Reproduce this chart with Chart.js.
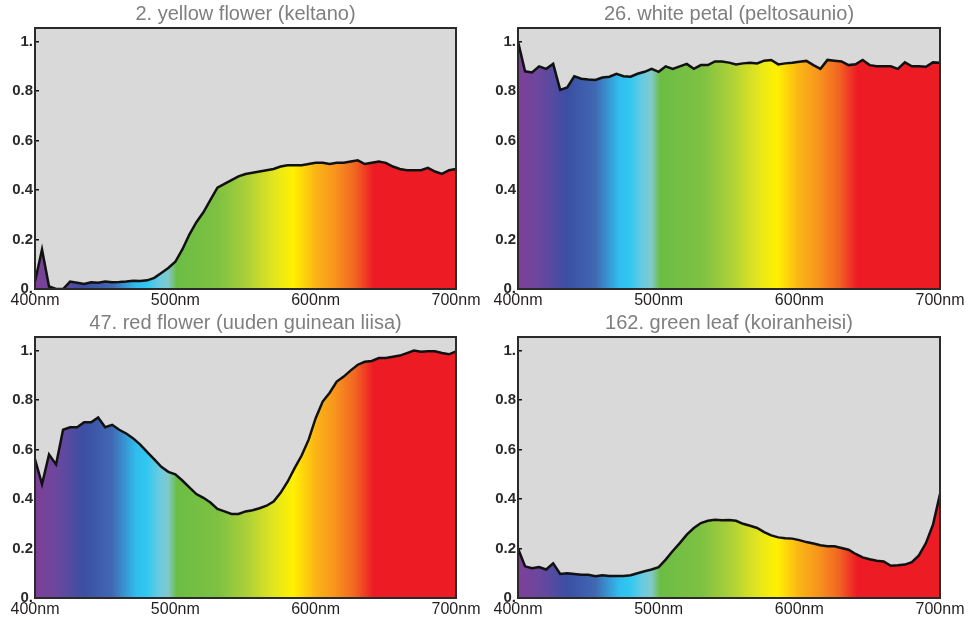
<!DOCTYPE html>
<html>
<head>
<meta charset="utf-8">
<script src="https://cdn.jsdelivr.net/npm/chart.js@4/dist/chart.umd.min.js"></script>
<style>
  html, body { margin: 0; padding: 0; background: #fff; overflow: hidden; }
  body { width: 969px; height: 618px; position: relative; }
  canvas { position: absolute; }
</style>
</head>
<body>
<canvas id="c1" width="491" height="310" style="left:0px;top:0px"></canvas>
<canvas id="c2" width="492" height="310" style="left:483px;top:0px"></canvas>
<canvas id="c3" width="491" height="310" style="left:0px;top:309px"></canvas>
<canvas id="c4" width="492" height="310" style="left:483px;top:309px"></canvas>
<script>
// wavelengths in nm, 5nm steps
var wavelengths = [];
for (var w = 400; w <= 700; w += 5) wavelengths.push(w);

var titles = [
    "2. yellow flower (keltano)",
    "26. white petal (peltosaunio)",
    "47. red flower (uuden guinean liisa)",
    "162. green leaf (koiranheisi)"
];

var yellowFlower = [
    0.03, 0.16, 0.01, 0.0, 0.0, 0.03, 0.025, 0.02, 0.027, 0.025,
    0.03, 0.027, 0.028, 0.03, 0.033, 0.032, 0.035, 0.045, 0.065, 0.085,
    0.11, 0.16, 0.22, 0.27, 0.31, 0.36, 0.41, 0.425, 0.44, 0.455,
    0.465, 0.47, 0.475, 0.48, 0.485, 0.495, 0.5, 0.5, 0.5, 0.505,
    0.51, 0.51, 0.505, 0.51, 0.51, 0.515, 0.52, 0.505, 0.51, 0.515,
    0.51, 0.495, 0.485, 0.48, 0.48, 0.48, 0.49, 0.475, 0.465, 0.48,
    0.485
];
var whitePetal = [
    1.0, 0.88, 0.875, 0.9, 0.89, 0.91, 0.805, 0.815, 0.86, 0.85,
    0.847, 0.845, 0.855, 0.858, 0.87, 0.86, 0.858, 0.87, 0.878, 0.89,
    0.878, 0.9, 0.89, 0.9, 0.91, 0.89, 0.905, 0.905, 0.92, 0.92,
    0.915, 0.908, 0.912, 0.915, 0.912, 0.923, 0.926, 0.908, 0.912, 0.915,
    0.919, 0.922, 0.905, 0.89, 0.926, 0.923, 0.92, 0.905, 0.908, 0.926,
    0.905, 0.9, 0.9, 0.9, 0.89, 0.916, 0.9, 0.9, 0.898, 0.916,
    0.915
];
var redFlower = [
    0.56, 0.46, 0.58, 0.54, 0.68, 0.69, 0.69, 0.71, 0.71, 0.73,
    0.69, 0.7, 0.68, 0.665, 0.645, 0.62, 0.59, 0.56, 0.53, 0.51,
    0.5, 0.475, 0.447, 0.42, 0.405, 0.386, 0.36, 0.35, 0.34, 0.34,
    0.35, 0.355, 0.363, 0.373, 0.39, 0.425, 0.47, 0.525, 0.576, 0.64,
    0.727, 0.794, 0.83, 0.875, 0.895, 0.92, 0.943, 0.955, 0.958, 0.97,
    0.97, 0.975, 0.98, 0.99, 1.0, 0.995, 0.997, 0.997, 0.99, 0.985,
    0.997
];
var greenLeaf = [
    0.2, 0.128, 0.12, 0.125, 0.115, 0.14, 0.097, 0.1, 0.097, 0.094,
    0.094, 0.088, 0.092, 0.089, 0.089, 0.089, 0.092, 0.1, 0.108, 0.115,
    0.125, 0.155, 0.19, 0.222, 0.256, 0.283, 0.303, 0.312, 0.316, 0.314,
    0.315, 0.312, 0.3, 0.292, 0.283, 0.266, 0.253, 0.245, 0.242, 0.24,
    0.234, 0.226, 0.22, 0.213, 0.209, 0.209, 0.202, 0.195, 0.178, 0.164,
    0.157, 0.151, 0.148, 0.13, 0.132, 0.135, 0.145, 0.172, 0.222, 0.296,
    0.42
];
var series = [yellowFlower, whitePetal, redFlower, greenLeaf];

var xTicks = [400, 500, 600, 700];

// colour stops of the spectrum fill [nm, colour]
var spectrumStops = [
    [400, "#7e3f98"], [415, "#6c479e"], [435, "#3b4fa3"], [455, "#4168b3"],
    [472, "#31bdee"], [479, "#2ec7f1"], [489, "#6ccbe0"], [495, "#80c9c8"],
    [501, "#6cbd45"], [530, "#7dc142"], [550, "#a9cf3a"], [570, "#e2e51f"],
    [584, "#fff200"], [592, "#ffd20c"], [600, "#fbb416"], [614, "#f7941d"],
    [628, "#f26522"], [641, "#ed1c24"], [700, "#ed1c24"]
];

function spectrumFill(context) {
    var chart = context.chart;
    if (!chart.chartArea) return null;
    var x = chart.scales.x;
    var g = chart.ctx.createLinearGradient(x.getPixelForValue(400), 0, x.getPixelForValue(700), 0);
    spectrumStops.forEach(function (s) {
        g.addColorStop((s[0] - 400) / 300, s[1]);
    });
    return g;
}

var frame = {
    id: "frame",
    beforeDraw: function (chart) {
        var a = chart.chartArea, ctx = chart.ctx;
        ctx.save();
        ctx.fillStyle = "#d9d9d9";
        ctx.fillRect(a.left, a.top, a.right - a.left, a.bottom - a.top);
        ctx.restore();
    },
    afterDraw: function (chart) {
        var a = chart.chartArea, ctx = chart.ctx;
        ctx.save();
        ctx.strokeStyle = "#2a2a2a";
        ctx.lineWidth = 2;
        ctx.strokeRect(a.left, a.top, a.right - a.left, a.bottom - a.top);
        ctx.restore();
    }
};

function makeChart(id, i) {
    var points = wavelengths.map(function (w, k) {
        return { x: w, y: series[i][k] };
    });
    return new Chart(document.getElementById(id), {
        type: "line",
        data: {
            datasets: [{
                data: points,
                borderColor: "#111",
                borderWidth: 2.5,
                pointRadius: 0,
                tension: 0,
                fill: "origin",
                backgroundColor: spectrumFill
            }]
        },
        options: {
            responsive: false,
            animation: false,
            layout: { padding: 0 },
            plugins: {
                legend: { display: false },
                tooltip: { enabled: false },
                title: {
                    display: true,
                    text: titles[i],
                    color: "#7f7f7f",
                    font: { family: "Liberation Sans", size: 20, weight: "normal" },
                    padding: { top: 2, bottom: 2 }
                }
            },
            scales: {
                x: {
                    type: "linear",
                    min: 400,
                    max: 700,
                    z: 1,
                    afterBuildTicks: function (scale) {
                        scale.ticks = xTicks.map(function (v) { return { value: v }; });
                    },
                    afterFit: function (scale) { scale.height = 21; },
                    border: { display: false },
                    grid: { drawOnChartArea: false, drawTicks: true, tickLength: -5, color: "#111", lineWidth: 1.5 },
                    ticks: {
                        padding: 7,
                        maxRotation: 0,
                        color: "#231f20",
                        font: { family: "Liberation Sans", size: 16 },
                        callback: function (v) { return v + "nm"; }
                    }
                },
                y: {
                    min: 0,
                    max: 1.055,
                    z: 1,
                    afterFit: function (scale) { scale.width = 35; },
                    border: { display: false },
                    grid: { drawOnChartArea: false, drawTicks: true, tickLength: -4, color: "#111", lineWidth: 1.5 },
                    ticks: {
                        stepSize: 0.2,
                        includeBounds: false,
                        padding: 6,
                        color: "#2a2a2a",
                        font: { family: "Liberation Sans", size: 15, weight: "bold" },
                        callback: function (v) {
                            if (v === 0) return "0.";
                            if (v > 0.99) return "1.";
                            return v.toFixed(1);
                        }
                    }
                },
                // empty right-hand margin so the title centres over the plot
                yRight: {
                    position: "right",
                    display: true,
                    afterFit: function (scale) { scale.width = 35; },
                    border: { display: false },
                    grid: { display: false },
                    ticks: { display: false }
                }
            }
        },
        plugins: [frame]
    });
}

makeChart("c1", 0);
makeChart("c2", 1);
makeChart("c3", 2);
makeChart("c4", 3);
</script>
</body>
</html>
